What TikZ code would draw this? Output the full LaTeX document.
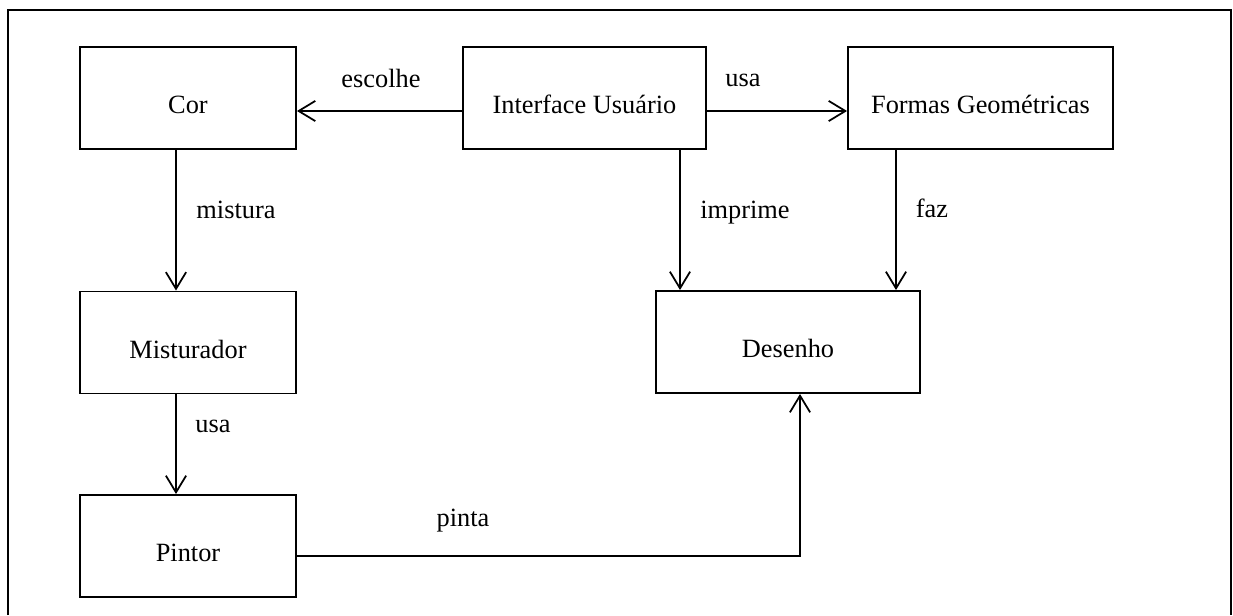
\documentclass[tikz,border=0pt]{standalone}
\usepackage{fontspec}
\setmainfont{Liberation Serif}
\usetikzlibrary{arrows.meta}
\begin{document}
\begin{tikzpicture}[x=0.02cm, y=-0.02cm,
  box/.style={draw, line width=1.1pt, minimum height=2.04cm, inner sep=0pt,
    text height=18pt, text depth=0pt, font=\fontsize{15}{18}\selectfont},
  lbl/.style={font=\fontsize{15}{18}\selectfont, inner sep=0pt, anchor=base},
  arr/.style={line width=1pt, -{Straight Barb[length=9.5pt, width=11.5pt, line width=1pt]}}]
\useasboundingbox (0,0) rectangle (1233,615);
% outer frame, open at the bottom
\draw[line width=1.1pt] (8,615) -- (8,10) -- (1231,10) -- (1231,615);

% classes
\node[box, minimum width=4.32cm] (cor) at (188,98) {Cor};
\node[box, minimum width=4.86cm] (ui)  at (584.5,98) {Interface Usuário};
\node[box, minimum width=5.3cm]  (fg)  at (980.5,98) {Formas Geométricas};
\node[box, minimum width=4.32cm] (mix) at (188,342.5) {Misturador};
\node[box, minimum width=5.28cm] (des) at (788,342) {Desenho};
\node[box, minimum width=4.32cm] (pin) at (188,546) {Pintor};

% connector guides
\coordinate (ytop) at (0,111);
\coordinate (ybot) at (0,556);
\coordinate (xleft) at (176,0);
\coordinate (ximp) at (680,0);
\coordinate (xfaz) at (896,0);
\coordinate (xpin) at (800,0);

% associations
\draw[arr] (ui.west |- ytop) -- (cor.east |- ytop);
\draw[arr] (ui.east |- ytop) -- (fg.west |- ytop);
\draw[arr] (cor.south -| xleft) -- (mix.north -| xleft);
\draw[arr] (mix.south -| xleft) -- (pin.north -| xleft);
\draw[arr] (ui.south -| ximp) -- (des.north -| ximp);
\draw[arr] (fg.south -| xfaz) -- (des.north -| xfaz);
\draw[arr] (pin.east |- ybot) -| (des.south -| xpin);

% association names (placed by baseline)
\node[lbl] (l1) at (381,88) {escolhe};
\node[lbl] (l2) at (743,87) {usa};
\node[lbl] (l3) at (236,218) {mistura};
\node[lbl] (l4) at (745,218) {imprime};
\node[lbl] (l5) at (932,217) {faz};
\node[lbl] (l6) at (213,432) {usa};
\node[lbl] (l7) at (463,526) {pinta};
\end{tikzpicture}
\end{document}
